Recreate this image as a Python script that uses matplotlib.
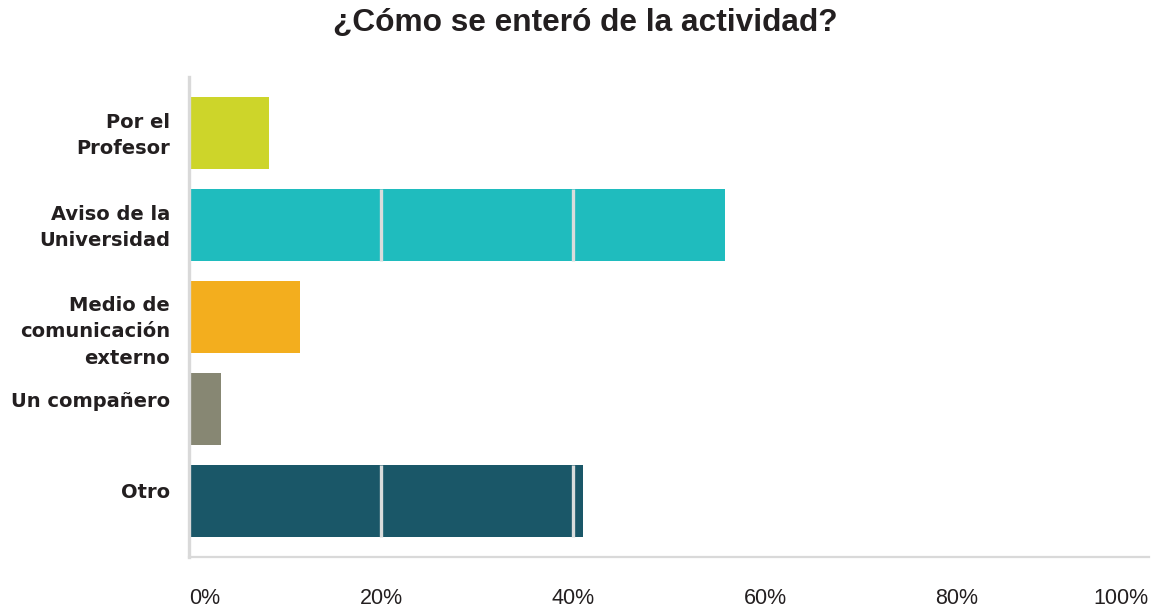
import matplotlib
matplotlib.use('Agg')
import matplotlib.pyplot as plt
import matplotlib.transforms as mtransforms
from matplotlib.ticker import FixedLocator

# survey answers (multiple choice, shares in %)
categorias = ['Por el\nProfesor', 'Aviso de la\nUniversidad', 'Medio de\ncomunicación\nexterno',
              'Un compañero', 'Otro']
porcentajes = [8.3, 55.8, 11.6, 3.3, 41.0]
colores = ['#CDD52A', '#1FBCBE', '#F3AE1E', '#878773', '#1A5768']
ticks = [0, 20, 40, 60, 80, 100]
tick_labels = ['0%', '20%', '40%', '60%', '80%', '100%']

# vertical nudge of each category label, in points (positive = up)
label_shift = [2.2, 2.2, -6.6, 6.5, 7.6]

fig = plt.figure(figsize=(11.55, 6.10), dpi=100)
ax = fig.add_axes([0.1636, 0.0869, 0.8312, 0.7869])

alto = 0.783
pos = list(range(len(categorias)))
ax.barh(pos, porcentajes, height=alto, color=colores, zorder=1)

# grid lines only show up on top of the bars
for y, v in zip(pos, porcentajes):
    for t in ticks[1:-1]:
        if t < v:
            ax.vlines(t, y - alto / 2, y + alto / 2, color='#d9dcdc', linewidth=2.4, zorder=2)

ax.set_xlim(0, 100)
ax.set_ylim(len(categorias) - 1 + 0.609, -0.609)

ax.xaxis.set_major_locator(FixedLocator(ticks))
ax.set_xticklabels(tick_labels, fontsize=15.5, family='Liberation Sans', color='#231f20')
lbls = ax.get_xticklabels()
lbls[0].set_horizontalalignment('left')
lbls[-1].set_horizontalalignment('right')
ax.tick_params(axis='x', length=0, pad=22)

ax.set_yticks(pos)
ax.set_yticklabels(categorias, fontsize=14, fontweight='bold', family='DejaVu Sans',
                   color='#231f20', linespacing=1.5)
ax.tick_params(axis='y', length=0, pad=13.5)
for lab, d in zip(ax.get_yticklabels(), label_shift):
    lab.set_transform(lab.get_transform() +
                      mtransforms.ScaledTranslation(0, d / 72, fig.dpi_scale_trans))

for s in ['top', 'right']:
    ax.spines[s].set_visible(False)
ax.spines['left'].set_color('#d9d9d9')
ax.spines['left'].set_linewidth(2.4)
ax.spines['bottom'].set_color('#d9d9d9')
ax.spines['bottom'].set_linewidth(1.6)

fig.text(0.507, 0.962, '¿Cómo se enteró de la actividad?', ha='center', va='center',
         fontsize=22.8, fontweight='bold', family='Liberation Sans', color='#231f20')

fig.savefig('out.png', dpi=100)
